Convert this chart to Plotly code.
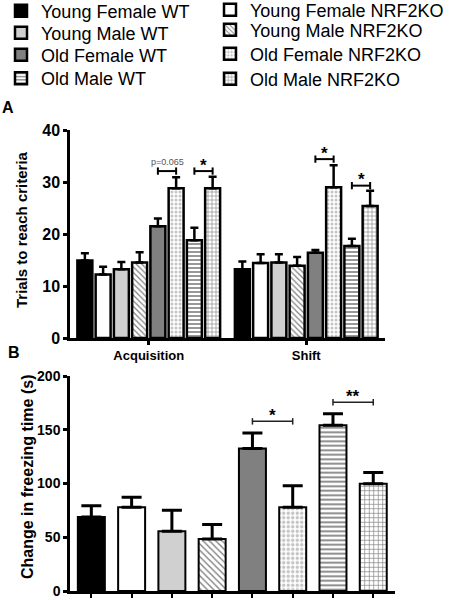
import plotly.graph_objects as go

# ---------------- data ----------------
groups = ["Young Female WT", "Young Female NRF2KO", "Young Male WT", "Young Male NRF2KO",
          "Old Female WT", "Old Female NRF2KO", "Old Male WT", "Old Male NRF2KO"]
phases = ["Acquisition", "Shift"]
acq_mean = [14.9, 12.2, 13.2, 14.5, 21.5, 28.8, 18.8, 28.8]
acq_sem = [1.4, 1.5, 1.4, 2.0, 1.5, 2.1, 2.4, 2.2]
shift_mean = [13.2, 14.4, 14.5, 13.9, 16.4, 29.0, 17.7, 25.4]
shift_sem = [1.5, 1.7, 1.6, 1.7, 0.5, 4.2, 1.4, 2.9]
freeze_mean = [68.9, 78.0, 55.6, 48.4, 132.6, 78.0, 154.3, 99.7]
freeze_sem = [10.3, 9.3, 19.6, 13.4, 14.4, 19.8, 10.6, 10.5]

# significance: (phase index, bar i, bar j, height, label)
sig_a = [(0, 4, 5, 32.1, "p=0.065"), (0, 6, 7, 32.1, "*"),
         (1, 4, 5, 34.4, "*"), (1, 6, 7, 29.3, "*")]
sig_b = [(4, 5, 157.8, "*"), (6, 7, 175.5, "**")]

# ---------------- styles ----------------
fills = ["#000000", "#ffffff", "#d0d0d0", "#ffffff", "#808080", "#ffffff", "#ffffff", "#ffffff"]
pshape = ["", "", "", "\\", "", ".", "-", "+"]
pfg = ["#000", "#000", "#000", "#000", "#000", "#8a8a8a", "#000", "#000"]
psol = [0.3, 0.3, 0.3, 0.3, 0.3, 0.45, 0.4, 0.28]
# legend placement (legend-left px, text-center px)
leg_pos = [(1, 11), (210, 10), (1, 33), (210, 30), (1, 55), (210, 54), (1, 78.5), (210, 79)]

W, H = 451, 600
FONT = "Liberation Sans, Arial, sans-serif"
BARGAP = 0.073


def px(x):
    return x / W


def py(y):
    return 1 - y / H


fig = go.Figure()
for i, g in enumerate(groups):
    pat = dict(shape=pshape[i], fgcolor=pfg[i], bgcolor=fills[i], size=4, solidity=psol[i])
    fig.add_trace(go.Bar(
        name=g, x=phases, y=[acq_mean[i], shift_mean[i]],
        xaxis="x", yaxis="y",
        marker=dict(color=fills[i], line=dict(color="black", width=2.5), pattern=pat),
        error_y=dict(type="data", array=[acq_sem[i], shift_sem[i]], arrayminus=[0, 0],
                     symmetric=False, color="black", thickness=2.5, width=4),
        legend="legend" if i == 0 else "legend%d" % (i + 1),
        legendgroup=g, showlegend=True,
    ))
for i, g in enumerate(groups):
    pat = dict(shape=pshape[i], fgcolor=pfg[i], bgcolor=fills[i], size=4.5, solidity=psol[i])
    fig.add_trace(go.Bar(
        name=g, x=[g], y=[freeze_mean[i]],
        xaxis="x2", yaxis="y2", width=0.67, offset=-0.335,
        marker=dict(color=fills[i], line=dict(color="black", width=2), pattern=pat),
        error_y=dict(type="data", array=[freeze_sem[i]], arrayminus=[0],
                     symmetric=False, color="black", thickness=3, width=10),
        legendgroup=g, showlegend=False,
    ))

shapes = []
annotations = []
slot = (1 - BARGAP) / 8
for ph, a, b, h, lab in sig_a:
    x0 = ph + (a - 3.5) * slot
    x1 = ph + (b - 3.5) * slot
    ln = dict(color="black", width=2)
    shapes.append(dict(type="line", xref="x", yref="y", x0=x0, x1=x1, y0=h, y1=h, line=ln))
    for xx in (x0, x1):
        shapes.append(dict(type="line", xref="x", yref="y", x0=xx, x1=xx, y0=h - 0.7, y1=h + 0.7, line=ln))
    if lab.startswith("p"):
        annotations.append(dict(xref="x", yref="y", x=(x0 + x1) / 2, y=h, text=lab, showarrow=False,
                                yanchor="middle", yshift=9, font=dict(family=FONT, size=9, color="#555")))
    else:
        annotations.append(dict(xref="x", yref="y", x=(x0 + x1) / 2, y=h, text=lab, showarrow=False,
                                yanchor="middle", yshift=6, font=dict(family=FONT, size=17, color="black",
                                                                        weight="bold")))
for a, b, h, lab in sig_b:
    ln = dict(color="#222", width=1.5)
    shapes.append(dict(type="line", xref="x2", yref="y2", x0=a, x1=b, y0=h, y1=h, line=ln))
    for xx in (a, b):
        shapes.append(dict(type="line", xref="x2", yref="y2", x0=xx, x1=xx, y0=h - 3, y1=h + 3, line=ln))
    annotations.append(dict(xref="x2", yref="y2", x=(a + b) / 2, y=h, text=lab, showarrow=False,
                            yanchor="middle", yshift=6, font=dict(family=FONT, size=17, color="black",
                                                                    weight="bold")))

# titles / panel letters
annotations += [
    dict(xref="paper", yref="paper", x=px(22), y=py(230), text="Trials to reach criteria", textangle=-90,
         showarrow=False, xanchor="center", yanchor="middle",
         font=dict(family=FONT, size=15, color="black", weight="bold")),
    dict(xref="paper", yref="paper", x=px(27), y=py(477), text="Change in freezing time (s)", textangle=-90,
         showarrow=False, xanchor="center", yanchor="middle",
         font=dict(family=FONT, size=16, color="black", weight="bold")),
    dict(xref="paper", yref="paper", x=px(8), y=py(108), text="A", showarrow=False,
         xanchor="center", yanchor="middle", font=dict(family=FONT, size=16, color="black", weight="bold")),
    dict(xref="paper", yref="paper", x=px(14), y=py(352), text="B", showarrow=False,
         xanchor="center", yanchor="middle", font=dict(family=FONT, size=16, color="black", weight="bold")),
]

axis_common = dict(showgrid=False, zeroline=False, showline=True, linecolor="black",
                   ticks="outside", tickcolor="black", ticklen=4)

layout = dict(
    width=W, height=H, margin=dict(l=0, r=0, t=0, b=0, autoexpand=False),
    paper_bgcolor="white", plot_bgcolor="white",
    barmode="group", bargap=BARGAP, bargroupgap=0.18,
    font=dict(family=FONT, color="black"),
    xaxis=dict(domain=[px(70), px(385)], anchor="y", range=[-0.5, 1.5], linewidth=2.5, tickwidth=2.5,
               tickfont=dict(family=FONT, size=13, color="black", weight="bold"), **axis_common),
    yaxis=dict(domain=[py(338), py(130)], anchor="x", range=[0, 40], dtick=10, linewidth=2.5, tickwidth=2.5,
               tickfont=dict(family=FONT, size=16, color="black", weight="bold"), **axis_common),
    xaxis2=dict(domain=[px(70), px(395)], anchor="y2", range=[-0.53, 7.54], linewidth=2.5, tickwidth=2,
                showticklabels=False, categoryorder="array", categoryarray=groups, **axis_common),
    yaxis2=dict(domain=[py(591), py(376)], anchor="x2", range=[0, 200], dtick=50, linewidth=2.5, tickwidth=2.5,
                tickfont=dict(family=FONT, size=14, color="black", weight="bold"), **axis_common),
    shapes=shapes, annotations=annotations,
)
for i, (lx, ly) in enumerate(leg_pos):
    key = "legend" if i == 0 else "legend%d" % (i + 1)
    layout[key] = dict(x=px(lx), y=py(ly), xanchor="left", yanchor="middle", orientation="v",
                       bgcolor="rgba(0,0,0,0)", borderwidth=0,
                       font=dict(family=FONT, size=18, color="black"))

fig.update_layout(**layout)
fig.write_html("out.html", config={"displayModeBar": False},
               post_script="document.body.style.margin='0';document.body.style.overflow='hidden';")
